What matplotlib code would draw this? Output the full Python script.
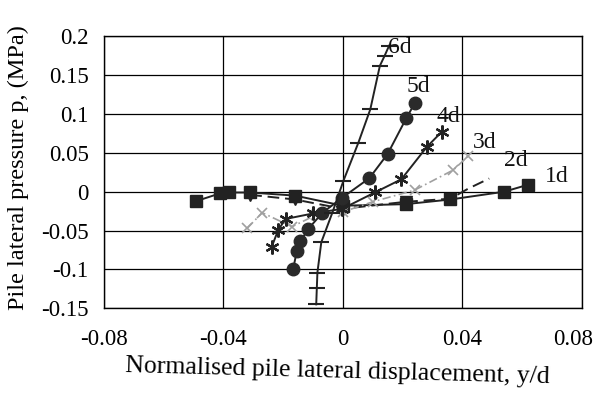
import matplotlib
matplotlib.use('Agg')
import matplotlib.pyplot as plt
from matplotlib.transforms import ScaledTranslation

plt.rcParams['font.family'] = ['Liberation Serif', 'DejaVu Serif']

# ---------------- data ----------------
x_ticks = [-0.08, -0.04, 0.0, 0.04, 0.08]
x_tick_labels = ['-0.08', '-0.04', '0', '0.04', '0.08']
y_ticks = [-0.15, -0.10, -0.05, 0.0, 0.05, 0.10, 0.15, 0.20]
y_tick_labels = ['-0.15', '-0.1', '-0.05', '0', '0.05', '0.1', '0.15', '0.2']

series_names = ['1d', '2d', '3d', '4d', '5d', '6d']

x_1d = [-0.049, -0.041, -0.038, -0.031, -0.016, 0.000, 0.021, 0.036, 0.054, 0.062]
y_1d = [-0.012, -0.002, -0.001, -0.001, -0.005, -0.018, -0.016, -0.010, 0.000, 0.009]

x_2d = [-0.031, -0.016, 0.000, 0.021, 0.036, 0.042, 0.049]
y_2d = [-0.004, -0.010, -0.022, -0.013, -0.009, 0.004, 0.017]

x_3d = [-0.032, -0.027, -0.017, -0.009, 0.000, 0.010, 0.024, 0.037, 0.042]
y_3d = [-0.047, -0.027, -0.045, -0.030, -0.026, -0.013, 0.002, 0.028, 0.046]

x_4d = [-0.0238, -0.0216, -0.0191, -0.0100, -0.0002, 0.0107, 0.0196, 0.0282, 0.0331]
y_4d = [-0.071, -0.049, -0.035, -0.028, -0.022, -0.001, 0.016, 0.058, 0.077]

x_5d = [-0.0166, -0.0154, -0.0142, -0.0116, -0.0068, -0.0003, 0.0089, 0.0150, 0.0213, 0.0241]
y_5d = [-0.099, -0.0765, -0.064, -0.048, -0.027, -0.008, 0.0175, 0.0486, 0.095, 0.114]

x_6d = [-0.0089, -0.0087, -0.0085, -0.0072, -0.0035, 0.0002, 0.0052, 0.0092, 0.0124, 0.0140, 0.0155]
y_6d = [-0.145, -0.124, -0.104, -0.065, -0.027, 0.014, 0.063, 0.106, 0.162, 0.175, 0.188]

label_x = [0.0716, 0.058, 0.0475, 0.0353, 0.0253, 0.0192]
label_y = [0.0196, 0.0396, 0.0637, 0.0965, 0.136, 0.185]

# ---------------- figure ----------------
fig = plt.figure(figsize=(6.0, 3.97), dpi=100)
ax = fig.add_axes([0.173, 0.2235, 0.7967, 0.685])
ax.set_xlim(-0.08, 0.08)
ax.set_ylim(-0.15, 0.20)
ax.set_xticks(x_ticks)
ax.set_xticklabels(x_tick_labels)
ax.set_yticks(y_ticks)
ax.set_yticklabels(y_tick_labels)
ax.grid(True, color='black', lw=0.9)
ax.set_axisbelow(True)
for s in ax.spines.values():
    s.set_linewidth(1.0)
    s.set_color('black')
ax.tick_params(axis='both', length=0, labelsize=16.5)
ax.tick_params(axis='x', pad=15)
ax.tick_params(axis='y', pad=11)

# keep the last x tick label inside the picture, as in the reference
last = ax.get_xticklabels()[-1]
last.set_transform(last.get_transform() + ScaledTranslation(-9 / 100, 0, fig.dpi_scale_trans))

dark = '#222222'
ax.plot(x_1d, y_1d, color=dark, lw=1.4, marker='s', ms=8.5, mfc=dark, mec=dark, zorder=3)
ax.plot(x_2d, y_2d, color=dark, lw=1.4, ls=(0, (6, 3)), marker='v', ms=8, mfc=dark, mec=dark,
        markevery=[0, 1, 2, 3, 4], zorder=3)
ax.plot(x_3d, y_3d, color='#a0a0a0', lw=1.2, ls=(0, (5, 2, 1, 2)), marker='x', ms=7,
        mew=1.2, mec='#a0a0a0', zorder=3)
ax.plot(x_4d, y_4d, color=dark, lw=1.4, marker=(6, 2, 0), ms=10, mew=1.6, mec=dark, zorder=4)
ax.plot(x_5d, y_5d, color=dark, lw=1.4, marker='o', ms=9, mfc='#2a2a2a', mec='#2a2a2a', zorder=4)
ax.plot(x_6d, y_6d, color=dark, lw=1.4, marker='_', ms=11, mew=1.5, mec=dark, zorder=4)

for name, lx, ly in zip(series_names, label_x, label_y):
    ax.text(lx, ly, name, ha='center', va='center', fontsize=17, color='#111111', zorder=5)

fig.text(337 / 600, 1 - 372 / 397, 'Normalised pile lateral displacement, y/d',
         ha='center', va='center', fontsize=18.5, rotation=-1.5)
fig.text(18 / 600, 1 - 168 / 397, 'Pile lateral pressure p, (MPa)',
         ha='center', va='center', fontsize=17.5, rotation=90)

fig.savefig('out.png', dpi=100, facecolor='white')
